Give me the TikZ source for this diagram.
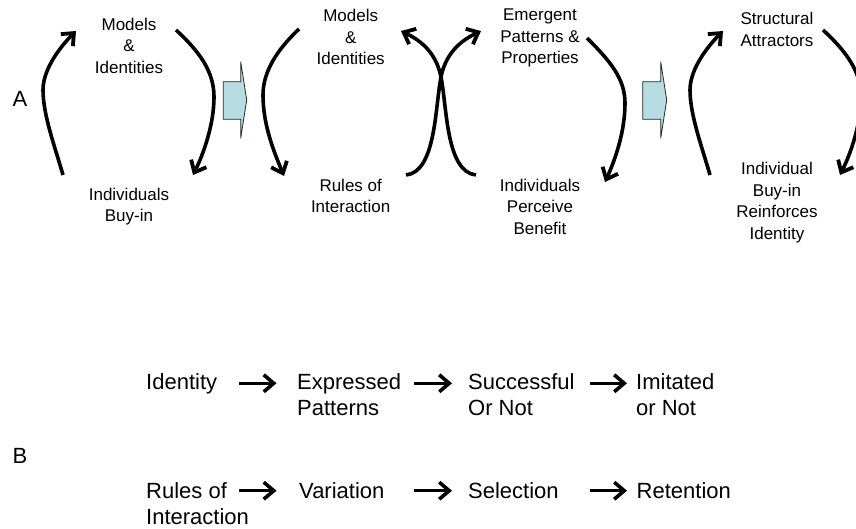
\documentclass[tikz,border=0pt]{standalone}
\usepackage{fontspec}
\setmainfont{Liberation Sans}
\usetikzlibrary{arrows.meta}
\definecolor{aqua}{RGB}{183,221,226}
\begin{document}
\begin{tikzpicture}[x=1pt,y=-1pt,
  toplbl/.style={anchor=north,align=center,inner sep=0pt,font=\fontsize{17}{21.5}\selectfont},
  botlbl/.style={anchor=north west,align=left,inner sep=0pt,font=\fontsize{22}{26}\selectfont},
  letter/.style={inner sep=0pt,font=\fontsize{22}{26}\selectfont},
  cyc/.style={line width=3.6pt,-{Straight Barb[length=10pt,width=17pt,line width=3.8pt]}},
  flow/.style={line width=3.2pt,-{Straight Barb[length=10pt,width=17pt,line width=3.6pt]}},
  stagearrow/.style={fill=aqua,draw=black!85,line width=0.8pt,line join=miter}]
\useasboundingbox (0,0) rectangle (856,529);
\clip (0,0) rectangle (856,529);

% ---------- Part A labels ----------
\node[letter] (A) at (20,98.5) {A};
\node[toplbl] (m1) at (129,17.5) {Models\\\&\\Identities};
\node[toplbl] (b1) at (129,187.9) {Individuals\\Buy-in};
\node[toplbl] (m2) at (350.7,9.1) {Models\\\&\\Identities};
\node[toplbl] (r2) at (350.7,178.9) {Rules of\\Interaction};
\node[toplbl] (e3) at (540,8.9) {Emergent\\Patterns \&\\Properties};
\node[toplbl] (p3) at (540,178.9) {Individuals\\Perceive\\Benefit};
\node[toplbl] (s4) at (777,12.2) {Structural\\Attractors};
\node[toplbl] (i4) at (777,162.2) {Individual\\Buy-in\\Reinforces\\Identity};

% ---------- stage arrows ----------
\draw[stagearrow] (223.3,81.7) -- (240.7,81.7) -- (240.7,61.7) -- (246.7,100) -- (240.7,138.3) -- (240.7,119.3) -- (223.3,119.3) -- cycle;
\draw[stagearrow] (642.7,81.7) -- (660.7,81.7) -- (660.7,61.7) -- (666.7,100) -- (660.7,138.3) -- (660.7,119.3) -- (642.7,119.3) -- cycle;

% ---------- cycle arrows: end points ----------
\coordinate (c1a) at (63,175);   \coordinate (c1b) at (76,31);
\coordinate (c1c) at (176,30);   \coordinate (c1d) at (193,175);
\coordinate (c2a) at (299,29);   \coordinate (c2b) at (284,176);
\coordinate (cxa) at (406,175);  \coordinate (cxb) at (481,31);
\coordinate (cxc) at (476,175);  \coordinate (cxd) at (401,31);
\coordinate (cxm) at (441,77);
\coordinate (c3a) at (587,38);   \coordinate (c3b) at (605,182);
\coordinate (c4a) at (710,175);  \coordinate (c4b) at (723,31);
\coordinate (c4c) at (823,30);   \coordinate (c4d) at (840,175);

% loop 1
\draw[cyc] (c1a) .. controls (55,147) and (43,115) .. (43,90) .. controls (43,68) and (62,45) .. (c1b);
\draw[cyc] (c1c) .. controls (200,52) and (214,72) .. (214,97) .. controls (214,125) and (203,155) .. (c1d);
% loop 2
\draw[cyc] (c2a) .. controls (279,48) and (263,70) .. (263,95) .. controls (263,125) and (274,152) .. (c2b);
% crossing arrows
\draw[cyc] (cxa) .. controls (436,172) and (435,107) .. (cxm) .. controls (446,52) and (462,40) .. (cxb);
\draw[cyc] (cxc) .. controls (446,172) and (447,107) .. (cxm) .. controls (436,52) and (420,40) .. (cxd);
% loop 3
\draw[cyc] (c3a) .. controls (609,60) and (625,78) .. (625,103) .. controls (625,132) and (615,160) .. (c3b);
% loop 4
\draw[cyc] (c4a) .. controls (702,147) and (690,115) .. (690,90) .. controls (690,68) and (709,45) .. (c4b);
\draw[cyc] (c4c) .. controls (847,52) and (861,72) .. (861,97) .. controls (861,125) and (850,155) .. (c4d);

% ---------- Part B ----------
\node[letter] (B) at (20,456) {B};
\node[botlbl] (id) at (146,373.8) {Identity};
\node[botlbl] (ep) at (297,373.8) {Expressed\\Patterns};
\node[botlbl] (sn) at (468,373.8) {Successful\\Or Not};
\node[botlbl] (im) at (636,373.8) {Imitated\\or Not};
\node[botlbl] (ri) at (146,482) {Rules of\\Interaction};
\node[botlbl] (va) at (299,482) {Variation};
\node[botlbl] (se) at (468,482) {Selection};
\node[botlbl] (re) at (636.5,482) {Retention};

\coordinate (f1a) at (239,383.3); \coordinate (f1b) at (276.5,383.3);
\coordinate (f2a) at (414,383.3); \coordinate (f2b) at (452,383.3);
\coordinate (f3a) at (590,383.3); \coordinate (f3b) at (627,383.3);
\coordinate (g1a) at (239,490.7); \coordinate (g1b) at (276.5,490.7);
\coordinate (g2a) at (414,490.7); \coordinate (g2b) at (452,490.7);
\coordinate (g3a) at (590,490.7); \coordinate (g3b) at (627,490.7);
\draw[flow] (f1a) -- (f1b);
\draw[flow] (f2a) -- (f2b);
\draw[flow] (f3a) -- (f3b);
\draw[flow] (g1a) -- (g1b);
\draw[flow] (g2a) -- (g2b);
\draw[flow] (g3a) -- (g3b);
\end{tikzpicture}
\end{document}
